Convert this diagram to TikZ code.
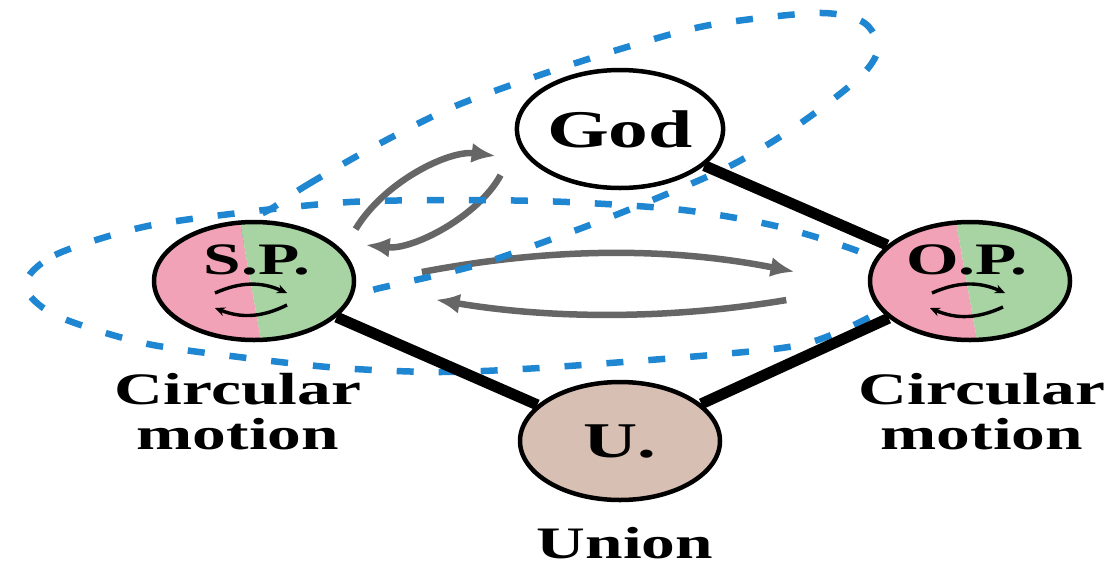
\documentclass[tikz,border=0pt]{standalone}
\usepackage{fontspec}
\setmainfont{Liberation Serif}[FakeStretch=1.5]
\usepackage{tikz}
\usetikzlibrary{arrows.meta,shapes.geometric,backgrounds,calc}
\definecolor{ringblue}{HTML}{1F86D2}
\definecolor{tradegray}{HTML}{666666}
\definecolor{halfpink}{HTML}{F2A2B6}
\definecolor{halfgreen}{HTML}{A8D4A4}
\definecolor{unionfill}{HTML}{D8BFB3}

\begin{document}
\begin{tikzpicture}[
  x=1pt,y=-1pt,
  every node/.style={align=center},
  txt/.style={font=\bfseries\fontsize{45}{45}\selectfont,inner sep=1pt},
  ball/.style={ellipse,draw=black,line width=4.5pt,minimum width=200pt,
              minimum height=118pt,inner sep=0pt},
  halfball/.style={ball,path picture={
      \fill[halfpink] (path picture bounding box.south west)
        -- (path picture bounding box.north west)
        -- ([xshift=-14pt]path picture bounding box.north)
        -- ([xshift=7pt]path picture bounding box.south) -- cycle;
      \fill[halfgreen] (path picture bounding box.south east)
        -- (path picture bounding box.north east)
        -- ([xshift=-14pt]path picture bounding box.north)
        -- ([xshift=7pt]path picture bounding box.south) -- cycle;}},
  bond/.style={line width=11pt,black},
  trade/.style={tradegray,line width=6.5pt,-{Latex[length=24pt,width=20pt]}},
  spin/.style={line width=3.4pt,-{Stealth[length=10pt,width=9pt]},bend left=24},
  ring/.style={ringblue,line width=6.5pt,dash pattern=on 17pt off 25pt}
]
\useasboundingbox (0,0) rectangle (1111,566);

\node[ball,font=\bfseries\fontsize{53}{53}\selectfont] (god) at (620,129) {God};
\node[halfball] (sp) at (254,281) {};
\node[halfball] (op) at (970,281) {};
\node[ball,fill=unionfill,font=\bfseries\fontsize{50}{50}\selectfont] (u) at (620,441) {U.};

\node[txt] (spname) at ($(sp)+(3,-21)$) {S.P.};
\node[txt] (opname) at ($(op)+(-3,-21)$) {O.P.};
\draw[spin] ($(sp)+(-39,12)$) to ($(sp)+(33,12)$);
\draw[spin] ($(sp)+(33,24)$) to ($(sp)+(-39,27)$);
\draw[spin] ($(op)+(-38,12)$) to ($(op)+(35,12)$);
\draw[spin] ($(op)+(33,26)$) to ($(op)+(-40,27)$);

\node[txt] (spnote) at (238,412) {Circular\\motion};
\node[txt] (opnote) at (982,412) {Circular\\motion};
\node[txt] (unote) at (625,543) {Union};

\begin{scope}[on background layer]
% exchange arrows
\draw[trade,bend left=33,shorten <=25pt,shorten >=34pt] (sp.19) to (god.199);
\draw[trade,bend left=34,shorten <=36pt,shorten >=34pt] (god.188) to (sp.27);
\draw[trade,bend left=11,shorten <=67pt,shorten >=75pt] (sp.358) to (op.183);
\draw[trade,bend left=9.5,shorten <=83pt,shorten >=81pt] (op.183) to (sp.357);
% dashed loops
\draw[ring] plot[smooth cycle] coordinates {(25,285) (55,255) (143,227)
  (247,212) (350,202) (460,200) (567,202) (683,210) (780,227) (870,256)
  (905,285) (875,314) (808,343) (723,354) (539,368) (439,372) (340,368)
  (247,358) (143,343) (55,315)};
\draw[ring] plot[smooth cycle] coordinates {(274,207) (307,185) (377,145)
  (453,107) (540,75) (627,47) (710,25) (817,13) (863,22) (878,48) (860,77)
  (798,125) (728,167) (633,208) (563,235) (477,265) (380,288) (333,298)
  (262,270) (241,229)};
% links
\draw[bond] (god) -- (op);
\draw[bond] (sp) -- (u);
\draw[bond] (u) -- (op);
\end{scope}
\end{tikzpicture}
\end{document}
